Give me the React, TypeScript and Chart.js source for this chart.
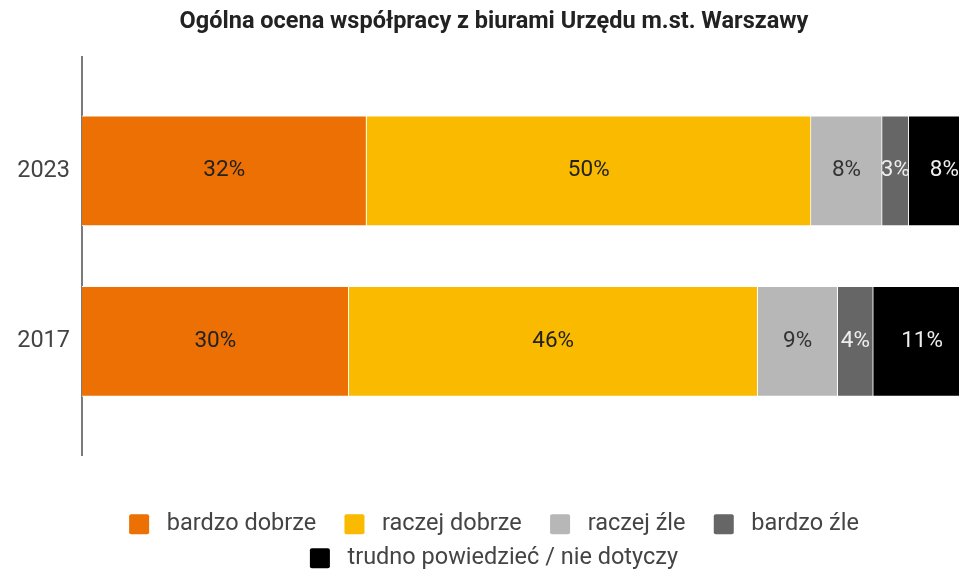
import React, { useEffect, useRef } from 'react';
import { Chart, registerables } from 'chart.js';

Chart.register(...registerables);

const chartTitle = 'Ogólna ocena współpracy z biurami Urzędu m.st. Warszawy';
const years = [2023, 2017];
const seriesNames = [
  'bardzo dobrze',
  'raczej dobrze',
  'raczej źle',
  'bardzo źle',
  'trudno powiedzieć / nie dotyczy',
];
const bardzoDobrze = [32, 30];
const raczejDobrze = [50, 46];
const raczejZle = [8, 9];
const bardzoZle = [3, 4];
const trudnoPowiedziec = [8, 11];

const seriesValues = [bardzoDobrze, raczejDobrze, raczejZle, bardzoZle, trudnoPowiedziec];
const seriesColors = ['#EC7003', '#F9BA00', '#B7B7B7', '#666666', '#000000'];
const labelColors = ['#222222', '#222222', '#333333', '#EEEEEE', '#EEEEEE'];

const FONT = 'Roboto';

const barLabels = {
  id: 'barLabels',
  afterDatasetsDraw(chart: any) {
    const ctx = chart.ctx;
    ctx.save();
    ctx.font = `400 22.5px ${FONT}`;
    ctx.textAlign = 'center';
    ctx.textBaseline = 'middle';
    chart.data.datasets.forEach((ds: any, di: number) => {
      const meta = chart.getDatasetMeta(di);
      meta.data.forEach((el: any, i: number) => {
        const p = el.getCenterPoint();
        ctx.fillStyle = labelColors[di];
        ctx.fillText(ds.data[i].x + '%', p.x, p.y);
      });
    });
    ctx.restore();
  },
};

export default function App() {
  const ref = useRef<HTMLCanvasElement | null>(null);

  useEffect(() => {
    if (!ref.current) return;
    const datasets = seriesNames.map((name, si) => ({
      label: name,
      data: years.map((y, i) => ({ x: seriesValues[si][i], y })),
      backgroundColor: seriesColors[si],
      borderColor: '#FFFFFF',
      borderWidth: 1,
      barThickness: 110,
    }));
    const chart = new Chart(ref.current, {
      type: 'bar',
      data: { datasets },
      plugins: [barLabels],
      options: {
        indexAxis: 'y',
        animation: false,
        responsive: false,
        devicePixelRatio: 1,
        layout: { padding: { left: 17, right: 19, top: 0, bottom: 0 } },
        scales: {
          x: {
            type: 'linear',
            stacked: true,
            min: 0,
            max: 100,
            position: 'bottom',
            grid: { display: false },
            border: { display: false },
            ticks: { display: false },
            afterFit: (s: any) => {
              s.height = 47;
            },
          },
          y: {
            type: 'linear',
            stacked: true,
            offset: false,
            min: 2013,
            max: 2027,
            grid: { display: false, drawTicks: false, offset: false },
            border: { display: true, color: '#7A7A7A', width: 2 },
            afterBuildTicks: (s: any) => {
              s.ticks = years.map((v) => ({ value: v }));
            },
            ticks: {
              padding: 12,
              color: '#444444',
              font: { family: FONT, size: 23.5 },
              callback: (v: any) => String(v),
            },
            afterFit: (s: any) => {
              s.width = 65;
            },
          },
        },
        plugins: {
          title: {
            display: true,
            text: chartTitle,
            color: '#222222',
            font: { family: FONT, size: 23.5, weight: 'bold' },
            padding: { top: 8, bottom: 21 },
          },
          legend: {
            position: 'bottom',
            labels: {
              boxWidth: 20,
              boxHeight: 20,
              padding: 10.5,
              color: '#444444',
              font: { family: FONT, size: 23.5 },
              useBorderRadius: true,
              borderRadius: 2,
              generateLabels: (c: any) =>
                Chart.defaults.plugins.legend.labels
                  .generateLabels(c)
                  .map((l: any, i: number) => ({
                    ...l,
                    text: ' ' + l.text + (i < 3 ? '\u2002 ' : ''),
                    lineWidth: 0,
                    strokeStyle: l.fillStyle,
                  })),
            },
          },
          tooltip: { enabled: false },
        },
      },
    });
    return () => chart.destroy();
  }, []);

  return (
    <div
      style={{
        position: 'fixed',
        left: 0,
        top: 0,
        width: 959,
        height: 571,
        overflow: 'hidden',
        background: '#FFFFFF',
      }}
    >
      <canvas ref={ref} width={990} height={580} style={{ width: 990, height: 580, display: 'block' }} />
    </div>
  );
}
